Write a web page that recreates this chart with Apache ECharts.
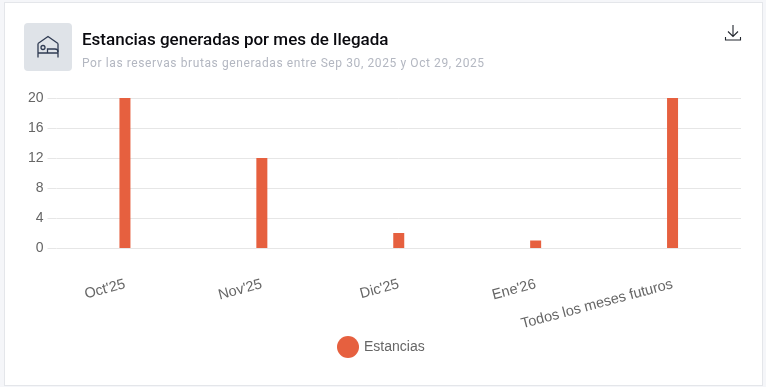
<!DOCTYPE html>
<html>
<head>
<meta charset="utf-8">
<style>
  html, body { margin: 0; padding: 0; width: 766px; height: 387px; overflow: hidden; background: #f5f6f9; }
  #card { position: absolute; left: 4px; top: 2px; width: 757px; height: 382px; background: #fff; border: 1px solid #e4e6ea; }
  #icon { position: absolute; left: 24px; top: 23px; width: 48px; height: 48px; background: #dfe3e8; border-radius: 4px; }
  #title { position: absolute; left: 82px; top: 29px; font: 500 17px Roboto, sans-serif; color: #0a0a0f; white-space: nowrap; }
  #sub { position: absolute; left: 82px; top: 56px; font: 400 12px Roboto, sans-serif; letter-spacing: 0.6px; color: #b3b7c1; white-space: nowrap; }
  #dl { position: absolute; left: 724px; top: 24px; }
  #main { position: absolute; left: 0; top: 0; width: 766px; height: 387px; }
</style>
</head>
<body>
<div id="card"></div>
<div id="main"></div>
<div id="icon">
  <svg width="48" height="48" viewBox="0 0 48 48" fill="none" stroke="#2f3b52" stroke-width="1.3">
    <path d="M14 20.5 L24 13.5 L34 20.5"/>
    <path d="M14 34.5 V20.5 M34 34.5 V20.5 M14 30 H34"/>
    <circle cx="19" cy="24.5" r="2"/>
    <path d="M23.5 30 V26 H31 Q34 26 34 29"/>
  </svg>
</div>
<div id="title">Estancias generadas por mes de llegada</div>
<div id="sub">Por las reservas brutas generadas entre Sep 30, 2025 y Oct 29, 2025</div>
<svg id="dl" width="18" height="18" viewBox="0 0 18 18" fill="none" stroke="#22262e" stroke-width="1.1">
  <path d="M9 1 V12 M4 7.5 L9 12.5 L14 7.5"/>
  <path d="M1.5 13 V16 H16.5 V13"/>
</svg>
<script src="https://cdn.jsdelivr.net/npm/echarts@6/dist/echarts.min.js"></script>
<script>
var categories = ["Oct'25", "Nov'25", "Dic'25", "Ene'26", "Todos los meses futuros"];
var estancias = [20, 12, 2, 1, 20];
var seriesName = 'Estancias';

var chart = echarts.init(document.getElementById('main'));

var option = {
    animation: false,
    grid: { left: 56.5, right: 25, top: 98, height: 150 },
    legend: {
        data: [seriesName],
        left: 332,
        top: 331,
        icon: 'circle',
        itemWidth: 22,
        itemHeight: 22,
        itemGap: 2,
        textStyle: { color: '#666', fontSize: 14, fontFamily: 'Liberation Sans' }
    },
    xAxis: {
        type: 'category',
        data: categories,
        axisLine: { show: false },
        axisTick: { show: false },
        axisLabel: {
            rotate: 15,
            interval: 0,
            margin: 36,
            color: '#666',
            fontSize: 14.5,
            fontFamily: 'Liberation Sans'
        }
    },
    yAxis: {
        type: 'value',
        min: 0,
        max: 20,
        interval: 4,
        axisLine: { show: false },
        // ticks drawn in the grid colour so the lines run past the plot on the left
        axisTick: { show: true, length: 9, lineStyle: { color: '#e6e6e6' } },
        splitLine: { lineStyle: { color: '#e6e6e6' } },
        axisLabel: { margin: 13, color: '#666', fontSize: 14, fontFamily: 'Liberation Sans' }
    },
    series: [{
        name: seriesName,
        type: 'bar',
        data: estancias,
        barWidth: 11,
        itemStyle: { color: '#e6603f' }
    }]
};

chart.setOption(option);
</script>
</body>
</html>
